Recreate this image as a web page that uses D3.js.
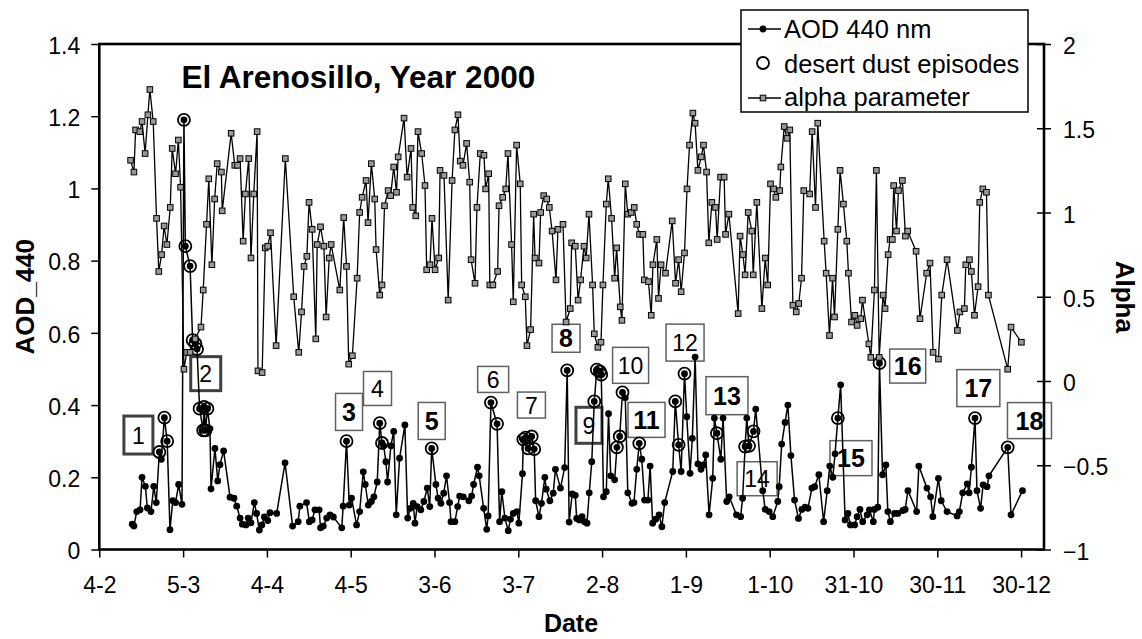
<!DOCTYPE html>
<html>
<head>
<meta charset="utf-8">
<script src="https://cdn.jsdelivr.net/npm/d3@7"></script>
<style>
  body { margin: 0; background: #fff; }
  svg { font-family: "Liberation Sans", Arial, sans-serif; }
</style>
</head>
<body>
<svg id="chart" width="1142" height="639"></svg>
<script>
// Data: [day of year 2000, value]
const aod440 = [
  [46.8,0.07],[47.4,0.065],[48.4,0.105],[49.6,0.11],[50.3,0.20],[51.5,0.175],[52.2,0.115],[53.5,0.105],
  [54.5,0.175],[55.4,0.13],[56.5,0.27],[57.2,0.25],[58.3,0.365],[59.3,0.30],[60.3,0.055],[61.3,0.135],
  [62.3,0.13],[63.4,0.18],[64.6,0.125],[65.3,1.19],[65.8,0.84],[67.5,0.785],[68.4,0.58],[69.4,0.57],
  [70.0,0.555],[70.9,0.39],[72.2,0.33],[72.5,0.395],[73.0,0.33],[73.7,0.39],[74.6,0.335],[75.0,0.168],
  [76.4,0.28],[77.4,0.19],[78.2,0.235],[79.5,0.273],[81.8,0.145],[83.2,0.142],[84.2,0.12],[85.4,0.087],
  [86.2,0.07],[87.5,0.068],[88.3,0.087],[89.3,0.074],[90.5,0.13],[91.3,0.10],[92.3,0.054],[93.2,0.068],
  [94.1,0.09],[95.3,0.08],[96.1,0.102],[98.5,0.10],[101.5,0.24],[104.2,0.065],[106.2,0.077],[106.8,0.12],
  [109.2,0.13],[110.2,0.077],[111.2,0.082],[112.2,0.11],[113.7,0.11],[114.2,0.06],[115.2,0.065],[116.4,0.087],
  [117.6,0.096],[118.8,0.09],[121.8,0.06],[122.3,0.12],[123.5,0.30],[124.5,0.123],[125.3,0.142],[127.1,0.068],
  [128.2,0.105],[129.5,0.215],[130.2,0.18],[131.3,0.123],[132.4,0.133],[133.3,0.146],[134.5,0.187],[135.4,0.35],
  [136.2,0.295],[136.8,0.287],[137.6,0.243],[138.2,0.187],[139.4,0.287],[140.4,0.327],[141.3,0.096],[142.5,0.253],
  [144.4,0.345],[145.4,0.087],[146.3,0.114],[147.4,0.128],[148.0,0.073],[148.8,0.119],[150.1,0.11],[151.2,0.133],
  [152.4,0.17],[153.3,0.119],[154.0,0.28],[155.5,0.18],[156.3,0.142],[157.3,0.128],[158.3,0.156],[159.3,0.204],
  [160.4,0.13],[160.9,0.077],[162.3,0.077],[163.3,0.119],[164.0,0.148],[165.3,0.146],[167.3,0.135],[168.3,0.148],
  [169.0,0.18],[170.4,0.228],[171.0,0.204],[172.6,0.114],[173.7,0.056],[174.2,0.093],[175.2,0.407],[177.4,0.348],
  [178.3,0.077],[179.1,0.16],[180.2,0.087],[181.4,0.052],[182.2,0.084],[183.2,0.10],[184.5,0.105],[185.2,0.073],
  [186.5,0.21],[186.8,0.305],[187.6,0.31],[188.5,0.28],[189.8,0.313],[190.7,0.278],[191.2,0.135],[192.4,0.091],
  [193.3,0.128],[194.5,0.20],[195.0,0.167],[196.3,0.135],[197.5,0.156],[198.3,0.222],[200.1,0.17],[201.6,0.227],
  [202.5,0.496],[203.2,0.076],[204.3,0.154],[205.4,0.15],[205.9,0.086],[206.8,0.082],[207.8,0.091],[208.7,0.077],
  [209.6,0.073],[210.4,0.157],[211.3,0.243],[212.2,0.41],[213.1,0.498],[214.2,0.493],[214.7,0.484],[215.5,0.146],
  [216.5,0.16],[217.3,0.376],[218.1,0.204],[219.5,0.193],[220.3,0.283],[221.3,0.313],[222.3,0.435],[223.3,0.42],
  [224.2,0.157],[225.7,0.128],[226.4,0.13],[227.4,0.222],[228.3,0.294],[229.2,0.25],[230.2,0.137],[231.4,0.137],
  [232.2,0.231],[233.1,0.073],[234.2,0.084],[235.4,0.096],[236.4,0.063],[237.4,0.13],[240.3,0.216],[241.2,0.41],
  [242.4,0.29],[243.3,0.216],[244.5,0.487],[245.3,0.368],[246.5,0.211],[247.3,0.308],[248.3,0.533],[249.3,0.237],
  [250.4,0.222],[251.3,0.234],[252.1,0.262],[253.3,0.096],[254.6,0.197],[255.2,0.364],[256.1,0.322],[257.5,0.25],
  [258.3,0.364],[259.6,0.133],[260.5,0.146],[263.1,0.096],[264.6,0.091],[265.3,0.142],[266.2,0.285],[266.8,0.364],
  [267.6,0.287],[269.2,0.327],[270.0,0.389],[272.5,0.163],[273.4,0.111],[274.8,0.105],[276.1,0.091],[277.9,0.133],
  [278.4,0.174],[279.3,0.292],[280.5,0.352],[281.5,0.40],[282.6,0.26],[283.9,0.137],[285.3,0.086],[286.5,0.111],
  [287.7,0.117],[288.7,0.114],[290.1,0.17],[291.1,0.174],[292.6,0.207],[294.3,0.077],[295.6,0.163],[296.5,0.231],
  [297.6,0.20],[298.4,0.265],[299.4,0.364],[300.4,0.456],[302.0,0.082],[303.0,0.10],[303.9,0.068],[305.4,0.068],
  [306.3,0.091],[307.3,0.111],[308.3,0.077],[309.9,0.096],[310.7,0.11],[312.1,0.077],[312.5,0.111],[313.7,0.117],
  [314.3,0.516],[315.4,0.207],[316.6,0.234],[317.3,0.105],[318.2,0.077],[319.7,0.10],[320.9,0.10],[322.7,0.108],
  [323.5,0.111],[324.5,0.163],[327.6,0.105],[328.4,0.231],[331.3,0.17],[332.6,0.146],[333.4,0.091],[335.4,0.197],
  [336.4,0.135],[338.5,0.105],[342.1,0.093],[342.9,0.105],[344.1,0.157],[345.7,0.182],[346.4,0.157],[347.2,0.228],
  [348.5,0.364],[349.2,0.163],[350.5,0.114],[351.4,0.179],[352.8,0.174],[353.5,0.204],[360.2,0.283],[361.4,0.096],
  [365.5,0.163]
];

const alphaParam = [
  [46.2,1.31],[47.4,1.24],[48.0,1.49],[49.5,1.48],[50.3,1.54],[51.4,1.35],[52.4,1.58],[53.1,1.73],
  [54.3,1.54],[55.5,0.965],[56.3,0.65],[57.3,0.75],[58.2,0.92],[59.2,0.81],[60.4,1.03],[61.1,1.38],
  [62.3,1.23],[63.3,1.43],[64.1,1.15],[65.3,0.07],[66.3,0.17],[67.5,0.17],[69.3,0.25],[71.4,0.32],
  [72.2,0.54],[73.4,0.93],[74.2,1.2],[75.3,0.69],[76.3,1.08],[77.2,1.29],[78.7,1.24],[79.0,1.01],
  [82.2,1.47],[83.5,1.28],[84.5,1.28],[85.4,1.32],[86.5,0.83],[87.3,1.11],[88.5,1.32],[89.3,0.73],
  [90.3,1.11],[91.5,1.48],[91.8,0.06],[93.3,0.05],[94.4,0.79],[95.3,0.80],[96.3,0.88],[98.3,0.21],
  [101.6,1.32],[104.6,0.50],[106.4,0.17],[107.4,0.41],[108.3,0.68],[109.3,0.74],[110.1,1.06],[111.2,0.90],
  [112.5,0.25],[113.0,0.81],[114.2,0.915],[115.4,0.80],[116.2,0.38],[117.3,0.73],[118.0,0.81],[121.1,0.54],
  [122.5,0.97],[123.5,0.68],[124.3,0.10],[125.6,0.15],[127.3,0.61],[128.2,1.00],[129.1,1.09],[130.5,1.19],
  [131.2,0.94],[132.4,1.29],[133.6,1.08],[134.1,0.78],[135.4,0.51],[136.2,0.57],[137.1,1.04],[138.4,1.13],
  [139.3,1.10],[140.4,1.27],[141.4,1.12],[142.0,1.33],[144.1,1.56],[145.2,1.21],[146.6,1.38],[147.2,1.03],
  [148.3,0.98],[149.1,1.48],[150.4,1.35],[151.6,1.16],[152.2,0.66],[153.4,0.69],[154.1,0.965],[155.2,0.66],
  [156.5,0.73],[157.0,1.25],[158.4,1.22],[159.9,0.48],[161.3,1.19],[162.3,1.49],[163.4,1.58],[164.2,1.305],
  [165.2,1.28],[166.5,1.41],[167.6,1.18],[168.1,0.72],[169.5,0.58],[170.2,1.03],[171.4,1.35],[172.7,1.34],
  [173.3,1.14],[174.4,1.23],[174.8,0.57],[175.9,0.57],[177.6,0.65],[178.1,1.04],[179.4,1.09],[180.5,1.14],
  [181.3,1.35],[182.6,0.81],[183.2,0.47],[184.4,1.40],[185.7,1.17],[186.2,0.57],[187.5,0.50],[188.1,0.21],
  [189.4,0.305],[190.5,0.99],[191.0,0.73],[192.4,0.70],[193.0,1.00],[194.1,1.10],[195.2,1.08],[196.1,1.03],
  [197.1,0.89],[198.5,0.60],[199.2,0.90],[201.0,0.93],[202.1,0.35],[203.6,0.43],[204.1,0.82],[205.4,0.80],
  [206.4,0.48],[207.3,0.60],[208.5,0.80],[209.3,0.73],[210.3,0.99],[211.6,0.57],[212.2,0.28],[213.5,0.20],
  [214.6,0.23],[215.3,0.57],[216.5,1.05],[217.2,1.20],[218.4,0.965],[219.5,0.61],[220.2,0.79],[221.5,0.44],
  [222.1,0.36],[223.3,1.17],[224.2,0.99],[225.4,1.00],[226.5,1.03],[227.4,0.93],[228.4,0.87],[229.6,0.87],
  [230.1,0.60],[231.6,0.59],[232.6,0.39],[233.2,0.69],[234.6,0.84],[235.2,0.49],[236.1,0.69],[237.7,0.64],
  [240.1,0.95],[241.3,0.58],[242.4,0.72],[243.3,0.53],[244.5,0.76],[245.4,1.14],[246.3,1.40],[247.5,1.59],
  [248.3,1.53],[249.3,1.25],[250.5,1.33],[251.3,1.40],[252.4,1.24],[253.2,0.82],[254.3,1.06],[255.6,1.03],
  [256.2,0.84],[257.4,1.21],[258.7,1.21],[259.2,0.87],[260.4,0.99],[263.7,0.40],[264.4,0.86],[265.4,0.75],
  [266.2,0.63],[267.3,1.00],[268.6,0.89],[269.1,0.63],[270.4,1.06],[272.2,0.43],[273.4,0.73],[274.3,0.57],
  [275.3,1.17],[276.4,1.14],[277.2,1.09],[278.6,1.13],[279.0,1.27],[280.2,1.51],[281.2,1.44],[282.2,1.49],
  [283.3,0.45],[284.5,0.41],[285.4,0.46],[286.4,0.61],[287.2,1.13],[289.3,1.11],[290.2,1.48],[291.4,1.03],
  [292.2,1.53],[294.5,0.83],[295.2,0.64],[296.4,0.27],[297.5,0.61],[298.2,0.38],[299.4,0.90],[300.2,1.25],
  [301.4,1.05],[302.6,0.83],[303.2,0.64],[304.3,0.35],[305.5,0.39],[306.3,0.33],[307.6,0.37],[308.2,0.48],
  [310.5,0.22],[311.2,0.14],[312.5,0.54],[313.2,1.25],[314.2,0.14],[315.6,0.51],[316.3,0.43],[317.4,0.75],
  [318.1,0.84],[318.9,0.84],[319.4,1.16],[320.4,0.89],[321.1,1.13],[322.5,1.19],[323.6,0.86],[324.4,0.89],
  [327.4,0.77],[328.8,0.37],[331.2,0.64],[332.4,0.70],[333.5,0.17],[335.4,0.13],[336.6,0.51],[338.5,0.72],
  [342.2,0.30],[343.1,0.41],[344.7,0.43],[345.2,0.69],[346.5,0.72],[347.2,0.65],[348.3,0.39],[349.6,0.56],
  [350.2,1.06],[351.3,1.14],[352.6,1.12],[353.3,0.51],[360.2,0.07],[361.4,0.32],[365.1,0.23]
];

// days of the AOD measurements flagged as desert dust episodes
const dustDays = [56.5, 58.3, 59.3, 65.3, 65.8, 67.5, 68.4, 69.4, 70.0, 70.9, 72.2, 72.5, 73.0, 73.7,
  123.5, 135.4, 136.2, 154.0, 175.2, 177.4, 186.8, 187.6, 188.5, 189.8, 190.7, 202.5, 212.2, 213.1,
  214.2, 214.7, 220.3, 221.3, 222.3, 228.3, 241.2, 242.4, 244.5, 256.1, 266.2, 267.6, 269.2, 299.4,
  314.3, 348.5, 360.2];

const aodTicks = [0, 0.2, 0.4, 0.6, 0.8, 1, 1.2, 1.4];
const alphaTicks = [-1, -0.5, 0, 0.5, 1, 1.5, 2];
const dateTickDays = [35, 65, 95, 125, 155, 185, 215, 245, 275, 305, 335, 365];

// numbered episode labels, anchored in data space (day, AOD)
const episodeLabels = [
  { n: "1",  day: 49.0,  aod: 0.317, w: 29, h: 38, bold: false, heavy: true },
  { n: "2",  day: 73.1,  aod: 0.487, w: 30, h: 34, bold: false, heavy: true },
  { n: "3",  day: 124.4, aod: 0.381, w: 27, h: 37, bold: true,  heavy: false },
  { n: "4",  day: 134.6, aod: 0.446, w: 28, h: 34, bold: false, heavy: false },
  { n: "5",  day: 154.0, aod: 0.356, w: 27, h: 37, bold: true,  heavy: false },
  { n: "6",  day: 176.0, aod: 0.471, w: 31, h: 26, bold: false, heavy: false },
  { n: "7",  day: 189.7, aod: 0.400, w: 28, h: 26, bold: false, heavy: false },
  { n: "8",  day: 202.1, aod: 0.585, w: 28, h: 28, bold: true,  heavy: false },
  { n: "9",  day: 210.3, aod: 0.344, w: 26, h: 36, bold: false, heavy: true },
  { n: "10", day: 225.2, aod: 0.510, w: 36, h: 36, bold: false, heavy: false },
  { n: "11", day: 230.9, aod: 0.359, w: 37, h: 35, bold: true,  heavy: false },
  { n: "12", day: 244.7, aod: 0.573, w: 38, h: 37, bold: false, heavy: false },
  { n: "13", day: 259.7, aod: 0.426, w: 42, h: 38, bold: true,  heavy: false },
  { n: "14", day: 270.5, aod: 0.196, w: 40, h: 34, bold: false, heavy: false },
  { n: "15", day: 304.1, aod: 0.253, w: 42, h: 35, bold: true,  heavy: false },
  { n: "16", day: 324.4, aod: 0.508, w: 36, h: 34, bold: true,  heavy: false },
  { n: "17", day: 349.7, aod: 0.447, w: 43, h: 37, bold: true,  heavy: false },
  { n: "18", day: 368.0, aod: 0.357, w: 44, h: 36, bold: true,  heavy: false }
];

const dayToDate = d => new Date(Date.UTC(2000, 0, 1) + (d - 1) * 864e5);

const svg = d3.select("#chart");
const plot = { left: 99.3, right: 1044, top: 44, bottom: 549.5 };

const x = d3.scaleUtc()
  .domain([dayToDate(35), dayToDate(373.2)])
  .range([plot.left, plot.right]);
const yAod = d3.scaleLinear().domain([0, 1.4]).range([plot.bottom, plot.top]);
const yAlpha = d3.scaleLinear().domain([-1, 2]).range([plot.bottom, plot.top]);

// episode boxes go under the data
const boxes = svg.append("g").selectAll("g")
  .data(episodeLabels)
  .enter().append("g")
  .attr("transform", d => `translate(${x(dayToDate(d.day))},${yAod(d.aod)})`);
boxes.append("rect")
  .attr("x", d => -d.w / 2)
  .attr("y", d => -d.h / 2)
  .attr("width", d => d.w)
  .attr("height", d => d.h)
  .attr("fill", "#fff")
  .attr("stroke", d => d.heavy ? "#404040" : "#606060")
  .attr("stroke-width", d => d.heavy ? 3 : 1.5);
boxes.append("text")
  .attr("text-anchor", "middle")
  .attr("y", d => d.bold ? 9 : 8.5)
  .attr("font-size", d => d.bold ? 25 : 23)
  .attr("font-weight", d => d.bold ? "bold" : "normal")
  .attr("fill", "#000")
  .text(d => d.n);

// AOD 440 nm series
const aodLine = d3.line()
  .x(d => x(dayToDate(d[0])))
  .y(d => yAod(d[1]));
svg.append("path")
  .datum(aod440)
  .attr("d", aodLine)
  .attr("fill", "none")
  .attr("stroke", "#000")
  .attr("stroke-width", 1.5);
svg.append("g").selectAll("circle")
  .data(aod440)
  .enter().append("circle")
  .attr("cx", d => x(dayToDate(d[0])))
  .attr("cy", d => yAod(d[1]))
  .attr("r", 3.4)
  .attr("fill", "#000");

// desert dust rings around the flagged AOD points
const aodByDay = new Map(aod440.map(d => [d[0], d[1]]));
svg.append("g").selectAll("circle")
  .data(dustDays.filter(d => aodByDay.has(d)))
  .enter().append("circle")
  .attr("cx", d => x(dayToDate(d)))
  .attr("cy", d => yAod(aodByDay.get(d)))
  .attr("r", 6)
  .attr("fill", "none")
  .attr("stroke", "#000")
  .attr("stroke-width", 1.8);

// alpha parameter series (right axis)
const alphaLine = d3.line()
  .x(d => x(dayToDate(d[0])))
  .y(d => yAlpha(d[1]));
svg.append("path")
  .datum(alphaParam)
  .attr("d", alphaLine)
  .attr("fill", "none")
  .attr("stroke", "#000")
  .attr("stroke-width", 1.3);
svg.append("g").selectAll("rect")
  .data(alphaParam)
  .enter().append("rect")
  .attr("x", d => x(dayToDate(d[0])) - 2.8)
  .attr("y", d => yAlpha(d[1]) - 2.8)
  .attr("width", 5.6)
  .attr("height", 5.6)
  .attr("fill", "#999")
  .attr("stroke", "#000")
  .attr("stroke-width", 1);

// axes
const fmtNum = d3.format("~g");
const fmtDate = d3.utcFormat("%-d-%-m");

const leftAxis = svg.append("g")
  .attr("transform", `translate(${plot.left},0)`)
  .call(d3.axisLeft(yAod).tickValues(aodTicks).tickFormat(fmtNum).tickSize(8).tickSizeOuter(0));
const rightAxis = svg.append("g")
  .attr("transform", `translate(${plot.right},0)`)
  .call(d3.axisRight(yAlpha).tickValues(alphaTicks).tickFormat(fmtNum).tickSize(7).tickSizeOuter(0));
const bottomAxis = svg.append("g")
  .attr("transform", `translate(0,${plot.bottom})`)
  .call(d3.axisBottom(x).tickValues(dateTickDays.map(dayToDate)).tickFormat(fmtDate).tickSize(8).tickSizeOuter(0));

[leftAxis, rightAxis, bottomAxis].forEach(g => {
  g.select(".domain").remove();
  g.selectAll(".tick line").attr("stroke", "#000").attr("stroke-width", 1.5);
  g.selectAll(".tick text")
    .attr("font-family", "Liberation Sans, Arial, sans-serif")
    .attr("font-size", 23)
    .attr("fill", "#000");
});
leftAxis.selectAll(".tick text").attr("x", -19).attr("dy", "0.4em");
rightAxis.selectAll(".tick line").attr("x1", -7).attr("x2", 7);
rightAxis.selectAll(".tick text").attr("x", 19).attr("dy", "0.42em");
bottomAxis.selectAll(".tick text").attr("y", 43.5).attr("dy", 0);

// plot frame
svg.append("rect")
  .attr("x", plot.left)
  .attr("y", plot.top)
  .attr("width", plot.right - plot.left)
  .attr("height", plot.bottom - plot.top)
  .attr("fill", "none")
  .attr("stroke", "#000")
  .attr("stroke-width", 2.6);

// axis titles
svg.append("text")
  .attr("transform", `translate(34,${(plot.top + plot.bottom) / 2}) rotate(-90)`)
  .attr("text-anchor", "middle")
  .attr("font-size", 26)
  .attr("font-weight", "bold")
  .text("AOD_440");
svg.append("text")
  .attr("transform", `translate(1116,${(plot.top + plot.bottom) / 2}) rotate(90)`)
  .attr("text-anchor", "middle")
  .attr("font-size", 26)
  .attr("font-weight", "bold")
  .text("Alpha");
svg.append("text")
  .attr("x", 571)
  .attr("y", 632)
  .attr("text-anchor", "middle")
  .attr("font-size", 25)
  .attr("font-weight", "bold")
  .text("Date");

// chart title
svg.append("text")
  .attr("x", 181.5)
  .attr("y", 88)
  .attr("font-size", 31.5)
  .attr("font-weight", "bold")
  .text("El Arenosillo, Year 2000");

// legend
const legend = svg.append("g");
legend.append("rect")
  .attr("x", 741).attr("y", 10)
  .attr("width", 287).attr("height", 102)
  .attr("fill", "#fff")
  .attr("stroke", "#000")
  .attr("stroke-width", 1.5);

legend.append("line")
  .attr("x1", 748).attr("x2", 781).attr("y1", 29).attr("y2", 29)
  .attr("stroke", "#000").attr("stroke-width", 1.5);
legend.append("circle")
  .attr("cx", 763).attr("cy", 29).attr("r", 3.4).attr("fill", "#000");

legend.append("circle")
  .attr("cx", 763).attr("cy", 63).attr("r", 6)
  .attr("fill", "none").attr("stroke", "#000").attr("stroke-width", 1.8);

legend.append("line")
  .attr("x1", 748).attr("x2", 781).attr("y1", 98).attr("y2", 98)
  .attr("stroke", "#000").attr("stroke-width", 1.3);
legend.append("rect")
  .attr("x", 760.2).attr("y", 95.2).attr("width", 5.6).attr("height", 5.6)
  .attr("fill", "#999").attr("stroke", "#000").attr("stroke-width", 1);

const legendText = ["AOD 440 nm", "desert dust episodes", "alpha parameter"];
legend.selectAll("text.item")
  .data(legendText)
  .enter().append("text")
  .attr("class", "item")
  .attr("x", 784)
  .attr("y", (d, i) => [38, 72.5, 106][i])
  .attr("font-size", 25.5)
  .text(d => d);
</script>
</body>
</html>
